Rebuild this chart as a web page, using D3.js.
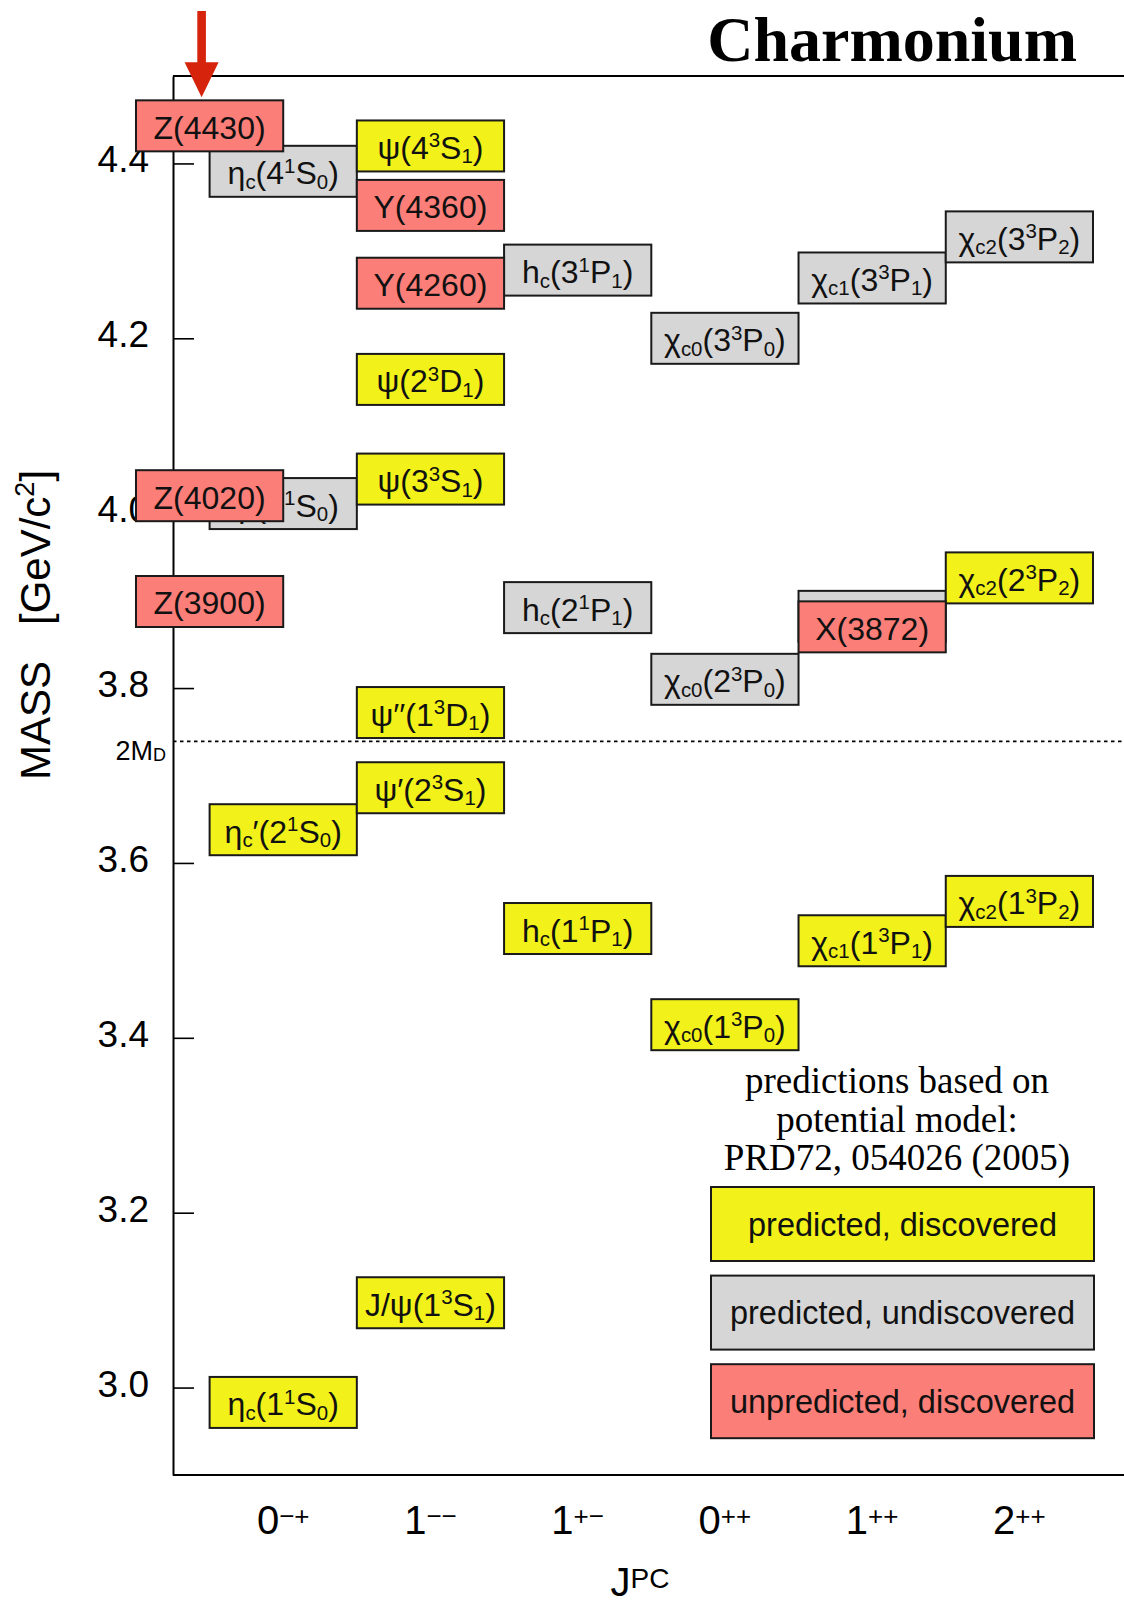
<!DOCTYPE html>
<html lang="en">
<head>
<meta charset="UTF-8">
<title>Charmonium</title>
<script src="https://d3js.org/d3.v7.min.js"></script>
<style>
  body { margin: 0; background: #fff; }
  svg { display: block; }
</style>
</head>
<body>
<svg id="chart" width="1124" height="1606"></svg>
<script>
// J^PC columns
var jpcSpin = ["0", "1", "1", "0", "1", "2"];
var jpcPC = ["\u2212+", "\u2212\u2212", "+\u2212", "++", "++", "++"];
var columns = jpcSpin.map(function(d, i) { return d + jpcPC[i]; });

// masses in GeV/c^2, labels use _{sub} and ^{sup}
var predictedDiscovered = [
  { label: "\u03b7_{c}(1^{1}S_{0})", jpc: columns[0], mass: 2.983 },
  { label: "\u03b7_{c}\u2032(2^{1}S_{0})", jpc: columns[0], mass: 3.638 },
  { label: "J/\u03c8(1^{3}S_{1})", jpc: columns[1], mass: 3.097 },
  { label: "\u03c8\u2032(2^{3}S_{1})", jpc: columns[1], mass: 3.686 },
  { label: "\u03c8\u2032\u2032(1^{3}D_{1})", jpc: columns[1], mass: 3.772 },
  { label: "\u03c8(3^{3}S_{1})", jpc: columns[1], mass: 4.039 },
  { label: "\u03c8(2^{3}D_{1})", jpc: columns[1], mass: 4.153 },
  { label: "\u03c8(4^{3}S_{1})", jpc: columns[1], mass: 4.420 },
  { label: "h_{c}(1^{1}P_{1})", jpc: columns[2], mass: 3.525 },
  { label: "\u03c7_{c0}(1^{3}P_{0})", jpc: columns[3], mass: 3.415 },
  { label: "\u03c7_{c1}(1^{3}P_{1})", jpc: columns[4], mass: 3.511 },
  { label: "\u03c7_{c2}(1^{3}P_{2})", jpc: columns[5], mass: 3.556 },
  { label: "\u03c7_{c2}(2^{3}P_{2})", jpc: columns[5], mass: 3.926 }
];

var predictedUndiscovered = [
  { label: "\u03b7_{c}(3^{1}S_{0})", jpc: columns[0], mass: 4.011 },
  { label: "\u03b7_{c}(4^{1}S_{0})", jpc: columns[0], mass: 4.391 },
  { label: "h_{c}(2^{1}P_{1})", jpc: columns[2], mass: 3.892 },
  { label: "h_{c}(3^{1}P_{1})", jpc: columns[2], mass: 4.278 },
  { label: "\u03c7_{c0}(2^{3}P_{0})", jpc: columns[3], mass: 3.810 },
  { label: "\u03c7_{c0}(3^{3}P_{0})", jpc: columns[3], mass: 4.200 },
  { label: null, jpc: columns[4], mass: 3.882 },   // hidden behind X(3872)
  { label: "\u03c7_{c1}(3^{3}P_{1})", jpc: columns[4], mass: 4.269 },
  { label: "\u03c7_{c2}(3^{3}P_{2})", jpc: columns[5], mass: 4.316 }
];

// jpc null = exotic, drawn astride the first column
var unpredictedDiscovered = [
  { label: "Y(4260)", jpc: columns[1], mass: 4.263 },
  { label: "Y(4360)", jpc: columns[1], mass: 4.352 },
  { label: "X(3872)", jpc: columns[4], mass: 3.870 },
  { label: "Z(3900)", jpc: null, mass: 3.899 },
  { label: "Z(4020)", jpc: null, mass: 4.020 },
  { label: "Z(4430)", jpc: null, mass: 4.443 }
];

var massTicks = [3.0, 3.2, 3.4, 3.6, 3.8, 4.0, 4.2, 4.4];
var thresholdMass = 3.739; // 2 M_D
var arrowTarget = "Z(4430)";

var legendLabels = ["predicted, discovered", "predicted, undiscovered", "unpredicted, discovered"];
var noteLines = ["predictions based on", "potential model:", "PRD72, 054026 (2005)"];

var colYellow = "#f2f21a", colGrey = "#d6d6d6", colRed = "#fc7e78";
var sans = "'Liberation Sans', Arial, Helvetica, sans-serif";
var serif = "'Liberation Serif', 'Times New Roman', serif";

var svg = d3.select("#chart");

var y = d3.scaleLinear().domain([2.9, 4.5]).range([1475, 76]);
var x = d3.scaleBand().domain(columns).range([209.6, 1093]);
var bw = x.bandwidth();
var boxH = 51;
var axisX = 173;

// text with _{} and ^{}
function rich(sel, str, size) {
  var re = /([_^])\{([^}]*)\}|([^_^]+)/g, m, shift = 0;
  while ((m = re.exec(str)) !== null) {
    var t = sel.append("tspan"), s = 0, fs = size;
    if (m[1] === "_") { s = size * 0.14; fs = size * 0.64; t.text(m[2]); }
    else if (m[1] === "^") { s = -size * 0.36; fs = size * 0.64; t.text(m[2]); }
    else { t.text(m[3]); }
    t.attr("font-size", fs).attr("dy", s - shift);
    shift = s;
  }
}

// title
svg.append("text")
  .attr("x", 1077).attr("y", 61)
  .attr("text-anchor", "end")
  .attr("font-family", serif).attr("font-weight", "bold").attr("font-size", 64)
  .text("Charmonium");

// frame
svg.append("line").attr("x1", axisX).attr("x2", 1130).attr("y1", y(4.5)).attr("y2", y(4.5))
  .attr("stroke", "#000").attr("stroke-width", 2);
svg.append("line").attr("x1", axisX).attr("x2", 1130).attr("y1", y(2.9)).attr("y2", y(2.9))
  .attr("stroke", "#000").attr("stroke-width", 2);

// y axis
var gy = svg.append("g")
  .attr("transform", "translate(" + axisX + ",0)")
  .call(d3.axisLeft(y).tickValues(massTicks).tickFormat(d3.format(".1f"))
    .tickSizeInner(-21).tickSizeOuter(0).tickPadding(24));
gy.attr("font-family", sans).attr("font-size", 37);
gy.select(".domain").attr("stroke", "#000").attr("stroke-width", 2);
gy.selectAll(".tick line").attr("stroke", "#000").attr("stroke-width", 1.6);
gy.selectAll(".tick text").attr("fill", "#000").attr("dy", "0.23em");

// y title
var yt = svg.append("text")
  .attr("transform", "translate(50,625) rotate(-90)")
  .attr("text-anchor", "middle")
  .attr("font-family", sans).attr("font-size", 42);
yt.append("tspan").text("MASS");
yt.append("tspan").attr("dx", 36).text("[GeV/c");
yt.append("tspan").attr("font-size", 27).attr("dy", -16).text("2");
yt.append("tspan").attr("dy", 16).text("]");

// 2M_D threshold
svg.append("line")
  .attr("x1", axisX).attr("x2", 1130)
  .attr("y1", y(thresholdMass)).attr("y2", y(thresholdMass))
  .attr("stroke", "#000").attr("stroke-width", 1.6).attr("stroke-dasharray", "3.5,3.5");
var th = svg.append("text")
  .attr("x", 166).attr("y", y(thresholdMass) + 19)
  .attr("text-anchor", "end")
  .attr("font-family", sans).attr("font-size", 27);
th.append("tspan").text("2M");
th.append("tspan").attr("font-size", 18).attr("dy", 1).text("D");

// x axis labels
var gx = svg.append("g")
  .attr("transform", "translate(0,1534)")
  .call(d3.axisBottom(x).tickSize(0).tickPadding(0));
gx.select(".domain").remove();
gx.attr("font-family", sans).attr("font-size", 40);
gx.selectAll(".tick text").attr("fill", "#000").attr("dy", 0).each(function(d) {
  var t = d3.select(this).text(null);
  t.append("tspan").text(d.charAt(0));
  t.append("tspan").attr("font-size", 26).attr("dy", -9).text(d.slice(1));
});

// x title
var xt = svg.append("text")
  .attr("x", 640).attr("y", 1596)
  .attr("text-anchor", "middle")
  .attr("font-family", sans).attr("font-size", 40);
xt.append("tspan").text("J");
xt.append("tspan").attr("font-size", 28).attr("dy", -8).text("PC");

// state boxes
function boxX(d) { return d.jpc ? x(d.jpc) : x(columns[0]) - bw / 2; }

function drawStates(data, fill) {
  var g = svg.append("g");
  var s = g.selectAll("g.state").data(data).enter().append("g").attr("class", "state");
  s.append("rect")
    .attr("x", boxX)
    .attr("y", function(d) { return y(d.mass) - boxH / 2; })
    .attr("width", bw).attr("height", boxH)
    .attr("fill", fill).attr("stroke", "#1a1a1a").attr("stroke-width", 2);
  s.filter(function(d) { return d.label; }).append("text")
    .attr("x", function(d) { return boxX(d) + bw / 2; })
    .attr("y", function(d) { return y(d.mass) + 13; })
    .attr("text-anchor", "middle")
    .attr("font-family", sans).attr("fill", "#111")
    .each(function(d) { rich(d3.select(this), d.label, 32); });
}

drawStates(predictedUndiscovered, colGrey);
drawStates(predictedDiscovered, colYellow);
drawStates(unpredictedDiscovered, colRed);

// arrow pointing at Z(4430)
var zt = unpredictedDiscovered.filter(function(d) { return d.label === arrowTarget; })[0];
var ax = x(columns[0]) - 8, tip = y(zt.mass) - boxH / 2 - 3;
svg.append("path")
  .attr("d", "M" + (ax - 4.3) + ",11 L" + (ax + 4.3) + ",11 L" + (ax + 4.3) + "," + (tip - 35) +
    " L" + (ax + 17) + "," + (tip - 35) + " L" + ax + "," + tip + " L" + (ax - 17) + "," + (tip - 35) +
    " L" + (ax - 4.3) + "," + (tip - 35) + "Z")
  .attr("fill", "#d6230b");

// note
svg.append("g").selectAll("text").data(noteLines).enter().append("text")
  .attr("x", 897)
  .attr("y", function(d, i) { return 1093 + i * 38.7; })
  .attr("text-anchor", "middle")
  .attr("font-family", serif).attr("font-size", 37)
  .text(function(d) { return d; });

// legend
var legendColors = [colYellow, colGrey, colRed];
var lg = svg.append("g").selectAll("g").data(legendLabels).enter().append("g")
  .attr("transform", function(d, i) { return "translate(711," + (1187 + i * 88.6) + ")"; });
lg.append("rect")
  .attr("width", 383).attr("height", 74)
  .attr("fill", function(d, i) { return legendColors[i]; })
  .attr("stroke", "#1a1a1a").attr("stroke-width", 2);
lg.append("text")
  .attr("x", 191.5).attr("y", 48.5)
  .attr("text-anchor", "middle")
  .attr("font-family", sans).attr("font-size", 32.5).attr("fill", "#111")
  .text(function(d) { return d; });
</script>
</body>
</html>
